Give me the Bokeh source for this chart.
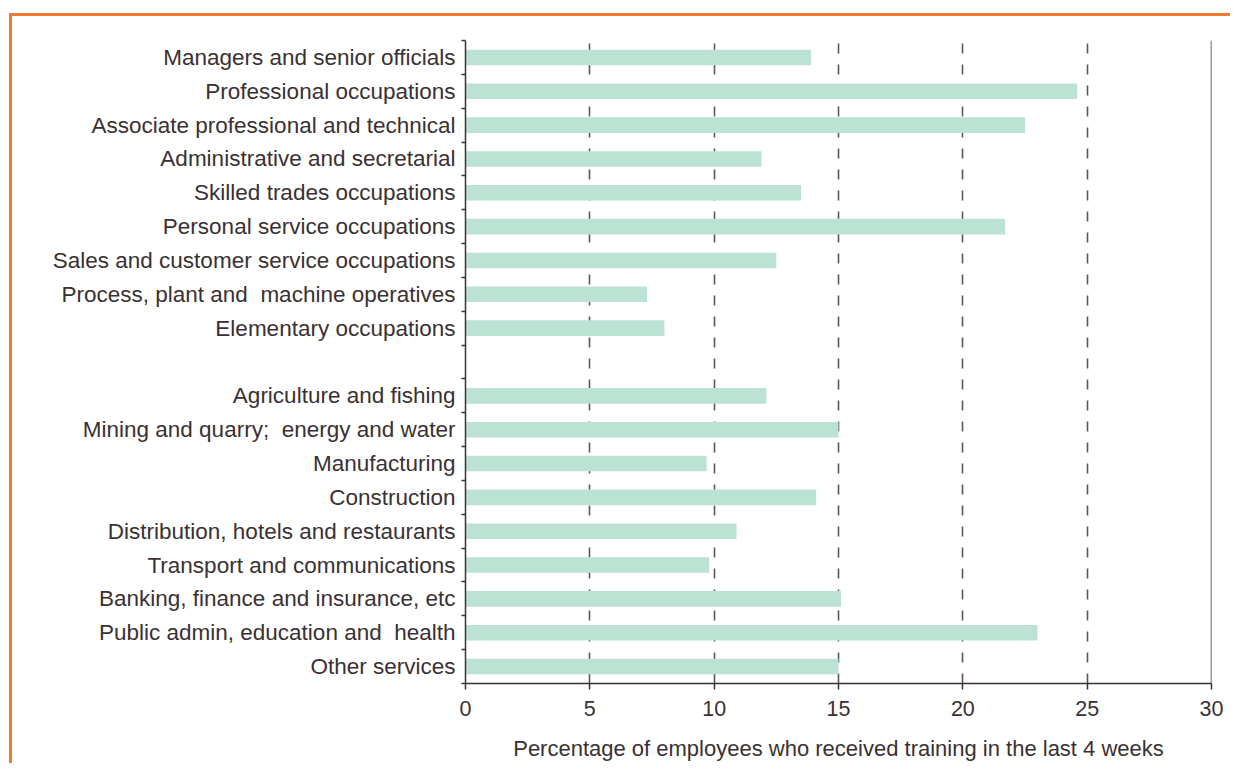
from bokeh.plotting import figure
from bokeh.models import FixedTicker, Span, Range1d, ColumnDataSource
from bokeh.embed import file_html
from bokeh.resources import INLINE

# ---- data ----
occupations = [
    "Managers and senior officials",
    "Professional occupations",
    "Associate professional and technical",
    "Administrative and secretarial",
    "Skilled trades occupations",
    "Personal service occupations",
    "Sales and customer service occupations",
    "Process, plant and \u00a0machine operatives",
    "Elementary occupations",
]
occupation_values = [13.9, 24.6, 22.5, 11.9, 13.5, 21.7, 12.5, 7.3, 8.0]

industries = [
    "Agriculture and fishing",
    "Mining and quarry; \u00a0energy and water",
    "Manufacturing",
    "Construction",
    "Distribution, hotels and restaurants",
    "Transport and communications",
    "Banking, finance and insurance, etc",
    "Public admin, education and \u00a0health",
    "Other services",
]
industry_values = [12.1, 15.0, 9.7, 14.1, 10.9, 9.8, 15.1, 23.0, 15.0]

x_ticks = [0, 5, 10, 15, 20, 25, 30]
x_label = "Percentage of employees who received training in the last 4 weeks"

# ---- layout of slots (one empty slot between the two groups) ----
labels = occupations + industries
values = occupation_values + industry_values
slots = list(range(len(occupations))) + [len(occupations) + 1 + i for i in range(len(industries))]
n_slots = len(labels) + 1
ypos = [n_slots - s - 0.5 for s in slots]

TEXT = "#3a3132"
AXIS = "#3a3132"
GRID = "#5e5557"
BAR = "#bce2d4"
ORANGE = "#f27a32"
FONT = "Liberation Sans"

src = ColumnDataSource(dict(y=ypos, v=values, name=labels))

p = figure(
    width=1221, height=750,
    x_range=Range1d(0, 30), y_range=Range1d(0, n_slots),
    output_backend="svg", toolbar_location=None,
    min_border_left=453, min_border_right=22, min_border_top=24, min_border_bottom=83,
)
p.styles = {
    "margin-top": "13px", "margin-left": "9px",
    "border-top": f"3px solid {ORANGE}", "border-left": f"3px solid {ORANGE}",
}
p.outline_line_color = None
p.background_fill_color = "white"
p.border_fill_color = "white"

p.hbar(y="y", right="v", left=0, height=0.46, source=src,
       fill_color=BAR, line_color=None)

# x axis
p.xaxis.ticker = FixedTicker(ticks=x_ticks)
p.xaxis.axis_label = x_label
p.xaxis.axis_label_text_font = FONT
p.xaxis.axis_label_text_font_style = "normal"
p.xaxis.axis_label_text_font_size = "22px"
p.xaxis.axis_label_text_color = TEXT
p.xaxis.axis_label_standoff = 17
p.xaxis.major_label_text_font = FONT
p.xaxis.major_label_text_font_size = "21.5px"
p.xaxis.major_label_text_color = TEXT
p.xaxis.major_label_standoff = 11
p.xaxis.major_tick_out = 6
p.xaxis.major_tick_in = 0
p.xaxis.minor_tick_out = 0
p.xaxis.minor_tick_in = 0
p.xaxis.axis_line_color = AXIS
p.xaxis.axis_line_width = 1.5
p.xaxis.major_tick_line_color = AXIS
p.xaxis.major_tick_line_width = 1.5

# y axis: labels at bar centres, small ticks at slot boundaries
p.yaxis.ticker = FixedTicker(ticks=ypos, minor_ticks=list(range(0, n_slots + 1)))
p.yaxis.major_label_overrides = {y: n for y, n in zip(ypos, labels)}
p.yaxis.major_label_text_font = FONT
p.yaxis.major_label_text_font_size = "22.5px"
p.yaxis.major_label_text_color = TEXT
p.yaxis.major_label_standoff = 6
p.yaxis.major_tick_out = 0
p.yaxis.major_tick_in = 0
p.yaxis.minor_tick_out = 4
p.yaxis.minor_tick_in = 0
p.yaxis.minor_tick_line_color = AXIS
p.yaxis.minor_tick_line_width = 1.5
p.yaxis.axis_line_color = AXIS
p.yaxis.axis_line_width = 1.5

# grid
p.ygrid.visible = False
p.xgrid.ticker = FixedTicker(ticks=x_ticks[1:-1])
p.xgrid.grid_line_color = GRID
p.xgrid.grid_line_width = 1.6
p.xgrid.grid_line_dash = "10 11"

# right frame line at the end of the scale
p.add_layout(Span(location=x_ticks[-1], dimension="height",
                  line_color=AXIS, line_width=1.5))

open("out.html", "w").write(file_html(p, INLINE))
